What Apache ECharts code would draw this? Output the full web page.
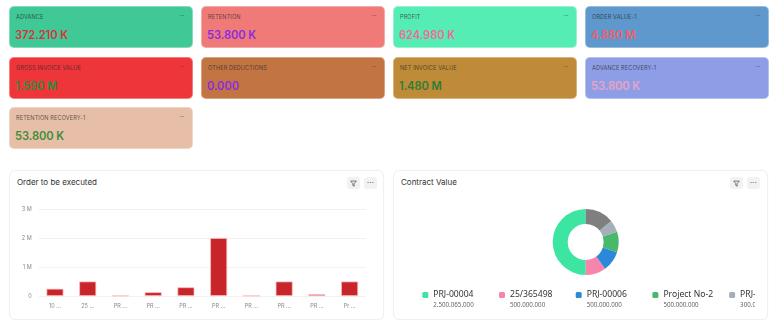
<!DOCTYPE html>
<html>
<head>
<meta charset="utf-8">
<script src="https://cdn.jsdelivr.net/npm/echarts@6/dist/echarts.min.js"></script>
<style>
  html, body { margin:0; padding:0; background:#fff; width:780px; height:327px; overflow:hidden; font-family: Inter, "Noto Sans", sans-serif; }
  .card { position:absolute; width:184px; height:42px; border-radius:5px; box-sizing:border-box; border:1px solid rgba(255,255,255,0.35); }
  .card .lbl { position:absolute; left:6px; top:7px; font-size:5.6px; color:rgba(40,40,40,0.75); letter-spacing:0.1px; white-space:nowrap; }
  .card .val { position:absolute; left:5px; top:21.5px; font-size:11.2px; line-height:13px; font-weight:600; white-space:nowrap; letter-spacing:-0.1px; }
  .card .dots { position:absolute; right:8px; top:4px; font-size:7px; color:rgba(60,60,60,0.6); letter-spacing:-0.5px; }
  .panel { position:absolute; top:170px; width:375px; height:150px; background:#fff; border:1px solid #f0f0f0; border-radius:6px; box-sizing:border-box; box-shadow:0 0 2px rgba(0,0,0,0.03); }
  .ptitle { position:absolute; left:7px; top:5.5px; font-size:8px; color:#333; }
  .btn { position:absolute; top:6px; width:13px; height:12px; background:#f2f2f2; border-radius:3px; }
  .btn svg { position:absolute; left:3px; top:2.5px; }
  .btn .d { position:absolute; left:0; width:13px; top:4px; text-align:center; font-size:3.5px; line-height:4px; color:#666; letter-spacing:0.3px; }
  #bar { position:absolute; left:9px; top:195px; width:375px; height:125px; }
  #pie { position:absolute; left:400px; top:195px; width:355px; height:125px; }
</style>
</head>
<body>
<div id="cards"></div>
<div class="panel" style="left:9px;">
  <div class="ptitle">Order to be executed</div>
  <div class="btn" style="left:337px;"><svg width="7" height="7" viewBox="0 0 10 10"><path d="M1 1.5 H9 L6 5.2 V8.8 L4 7.8 V5.2 Z" fill="none" stroke="#555" stroke-width="1.1" stroke-linejoin="round"/></svg></div>
  <div class="btn" style="left:354px;"><div class="d">•••</div></div>
</div>
<div class="panel" style="left:393px;">
  <div class="ptitle">Contract Value</div>
  <div class="btn" style="left:336px;"><svg width="7" height="7" viewBox="0 0 10 10"><path d="M1 1.5 H9 L6 5.2 V8.8 L4 7.8 V5.2 Z" fill="none" stroke="#555" stroke-width="1.1" stroke-linejoin="round"/></svg></div>
  <div class="btn" style="left:353px;"><div class="d">•••</div></div>
</div>
<div id="bar"></div>
<div id="pie"></div>
<script>
// ---- KPI cards ----
const kpiTitles = ['ADVANCE','RETENTION','PROFIT','ORDER VALUE-1','GROSS INVOICE VALUE','OTHER DEDUCTIONS','NET INVOICE VALUE','ADVANCE RECOVERY-1','RETENTION RECOVERY-1'];
const kpiValues = [372210, 53800, 624980, 4880000, 1590000, 0, 1480000, 53800, 53800];
const kpiColors = ['#40c996','#ef7a78','#56edb5','#5e98cc','#ee3539','#c27442','#bf8b38','#8e9ee6','#e7bfa8'];
const kpiValueColors = ['#d8333b','#8a2be2','#ee6b9c','#f0606c','#2f8a40','#8a2be2','#2e7d35','#e9a3c4','#3b8e3a'];

// ---- Bar chart ----
const barCategories = ['10 ...','25 ...','PR ...','PR ...','PR ...','PR ...','PR ...','PR ...','PR ...','Pr ...'];
const barValues = [250000, 500000, 10000, 130000, 300000, 2000000, 10000, 500000, 60000, 500000];

// ---- Pie chart ----
const pieNames = ['PRJ-00004','25/365498','PRJ-00006','Project No-2','PRJ-00005','PRJ-00003'];
const pieValues = [2500065000, 500000000, 500000000, 500000000, 300000000, 700000000];
const pieColors = ['#3de5a2','#f685ab','#2c88d9','#48b86b','#a6afb7','#7f7f7f'];

function fmtKpi(v){
  if (v >= 1e6) return (v/1e6).toFixed(3) + ' M';
  if (v >= 1e3) return (v/1e3).toFixed(3) + ' K';
  return v.toFixed(3);
}
function fmtDots(v){
  return Math.round(v).toString().replace(/\B(?=(\d{3})+(?!\d))/g, '.');
}

const colX = [9, 201, 393, 585];
const rowY = [6, 57, 107];
const cardsEl = document.getElementById('cards');
kpiTitles.forEach((t, i) => {
  const c = document.createElement('div');
  c.className = 'card';
  c.style.left = colX[i % 4] + 'px';
  c.style.top = rowY[Math.floor(i / 4)] + 'px';
  c.style.background = kpiColors[i];
  c.innerHTML = '<div class="lbl">' + t + '</div><div class="dots">···</div><div class="val" style="color:' + kpiValueColors[i] + '">' + fmtKpi(kpiValues[i]) + '</div>';
  cardsEl.appendChild(c);
});

const bar = echarts.init(document.getElementById('bar'), null, {renderer:'canvas'});
bar.setOption({
  animation: false,
  grid: { left: 29.6, right: 18, top: 14, bottom: 24 },
  xAxis: {
    type: 'category',
    data: barCategories,
    axisLine: { show: false },
    axisTick: { show: false },
    axisLabel: { color: '#888', fontSize: 5.5, margin: 7, fontFamily: 'Inter' }
  },
  yAxis: {
    type: 'value',
    min: 0, max: 3000000, interval: 1000000,
    axisLabel: { color: '#888', fontSize: 5.5, margin: 7, fontFamily: 'Inter',
      formatter: v => v === 0 ? '0' : (v / 1e6) + ' M' },
    splitLine: { lineStyle: { color: '#f2f2f2', width: 1 } }
  },
  series: [{
    type: 'bar',
    data: barValues,
    barWidth: 17,
    itemStyle: { color: '#c8252b', borderColor: 'rgba(250,190,190,0.9)', borderWidth: 0.8 }
  }]
});

const pie = echarts.init(document.getElementById('pie'), null, {renderer:'canvas'});
const valueMap = {};
pieNames.forEach((n, i) => valueMap[n] = pieValues[i]);
pie.setOption({
  animation: false,
  color: pieColors,
  legend: {
    type: 'plain',
    orient: 'horizontal',
    left: 22.3,
    top: 87,
    padding: 0,
    width: 2000,
    itemWidth: 6,
    itemHeight: 6,
    itemGap: 5.7,
    icon: 'roundRect',
    data: pieNames,
    formatter: n => '{e| }\n{n|' + n + '}\n{v|' + fmtDots(valueMap[n]) + '}',
    textStyle: {
      rich: {
        e: { fontSize: 6, lineHeight: 9, width: 60 },
        n: { fontSize: 8.6, lineHeight: 11, color: '#333', width: 60, fontFamily: '"Noto Sans"' },
        v: { fontSize: 6.2, lineHeight: 9, color: '#666', width: 60, fontFamily: '"Noto Sans"' }
      }
    }
  },
  series: [{
    type: 'pie',
    center: [185.7, 47],
    radius: [18, 33],
    startAngle: 90,
    clockwise: false,
    label: { show: false },
    labelLine: { show: false },
    data: pieNames.map((n, i) => ({ name: n, value: pieValues[i] }))
  }]
});
</script>
</body>
</html>
